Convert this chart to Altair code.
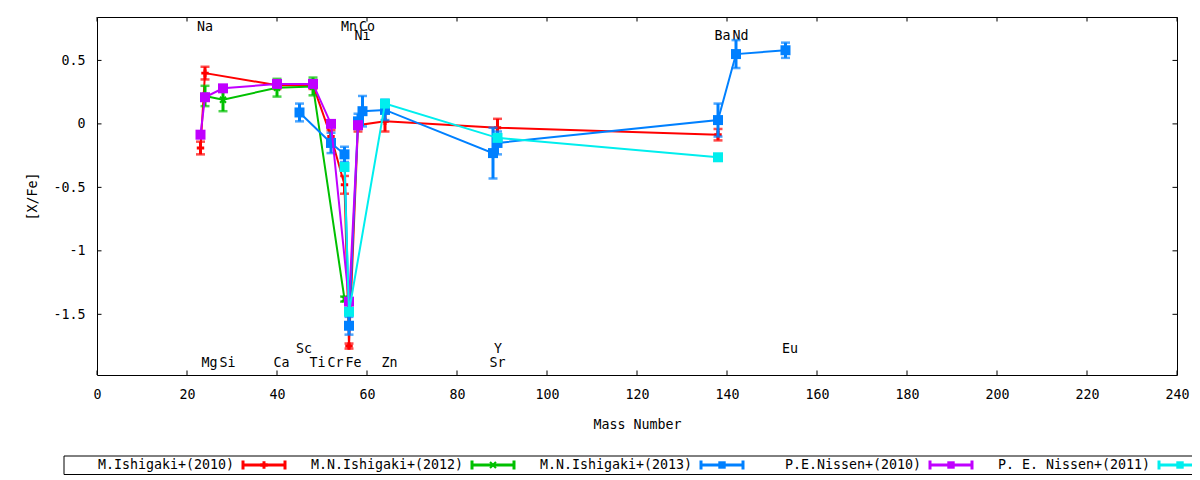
import altair as alt
import pandas as pd

# ---------------- data ----------------
ELEMENTS = ["Na", "Mg", "Si", "Ca", "Sc", "Ti", "Cr", "Mn", "Fe", "Ni", "Co", "Zn", "Sr", "Y", "Ba", "Nd", "Eu"]
MASSES = [23, 24, 28, 40, 45, 48, 52, 55, 56, 58, 59, 64, 88, 89, 138, 142, 153]
LABEL_Y = [0.765, -1.88, -1.88, -1.88, -1.77, -1.88, -1.88, 0.765, -1.88, 0.69, 0.765,
           -1.88, -1.88, -1.77, 0.69, 0.69, -1.77]

SERIES_NAMES = ["M.Ishigaki+(2010)", "M.N.Ishigaki+(2012)", "M.N.Ishigaki+(2013)",
                "P.E.Nissen+(2010)", "P. E. Nissen+(2011)"]
SERIES_COLORS = ["#ff0000", "#00c000", "#0080ff", "#c000ff", "#00eeee"]

RED_ELEM = ["Na", "Mg", "Ca", "Ti", "Cr", "Mn", "Fe", "Ni", "Zn", "Y", "Ba"]
RED_VAL = [-0.19, 0.40, 0.305, 0.305, -0.10, -0.48, -1.75, -0.01, 0.02, -0.03, -0.085]
RED_ERR = [0.05, 0.05, 0.03, 0.03, 0.05, 0.07, 0.02, 0.05, 0.08, 0.07, 0.045]

GREEN_ELEM = ["Mg", "Si", "Ca", "Ti", "Mn"]
GREEN_VAL = [0.22, 0.19, 0.285, 0.295, -1.38]
GREEN_ERR = [0.08, 0.09, 0.07, 0.07, 0.02]

BLUE_ELEM = ["Sc", "Cr", "Mn", "Fe", "Ni", "Co", "Zn", "Sr", "Y", "Ba", "Nd", "Eu"]
BLUE_VAL = [0.09, -0.15, -0.24, -1.59, 0.02, 0.10, 0.11, -0.23, -0.15, 0.03, 0.55, 0.58]
BLUE_ERR = [0.07, 0.08, 0.06, 0.07, 0.06, 0.12, 0.08, 0.20, 0.09, 0.13, 0.11, 0.06]

PURPLE_ELEM = ["Na", "Mg", "Si", "Ca", "Ti", "Cr", "Fe", "Ni"]
PURPLE_VAL = [-0.085, 0.21, 0.28, 0.315, 0.315, 0.0, -1.40, -0.01]

CYAN_ELEM = ["Mn", "Fe", "Zn", "Y", "Ba"]
CYAN_VAL = [-0.34, -1.48, 0.16, -0.11, -0.263]

X_TICKS = list(range(0, 241, 20))
Y_TICKS = [0.5, 0, -0.5, -1, -1.5]

# ---------------- style ----------------
FONT = "DejaVu Sans Mono"
FS = 13.3
W, H = 1080, 358
X_SHAPE = "M-1,-0.6L-0.6,-1L0,-0.4L0.6,-1L1,-0.6L0.4,0L1,0.6L0.6,1L0,0.4L-0.6,1L-1,0.6L-0.4,0Z"
SHAPES = ["cross", X_SHAPE, "square", "square", "square"]
SIZES = [55, 55, 100, 100, 100]

xs = alt.Scale(domain=[0, 240], nice=False, zero=False)
ys = alt.Scale(domain=[-1.978, 0.842], nice=False, zero=False)
xaxis = alt.Axis(values=X_TICKS, title="Mass Number", ticks=False, tickSize=0, domain=False,
                 grid=False, labelPadding=12, titleY=49, titleBaseline="middle",
                 labelFlush=False)
yaxis = alt.Axis(values=Y_TICKS, title="[X/Fe]", ticks=False, tickSize=0, domain=False,
                 grid=False, labelPadding=12, labelExpr="toString(datum.value)",
                 titleAngle=270, titleX=-65, titleY=H / 2, titleBaseline="middle",
                 titleAlign="center")


def XE(f="mass"):
    return alt.X(f"{f}:Q", scale=xs, axis=xaxis)


def YE(f="val"):
    return alt.Y(f"{f}:Q", scale=ys, axis=yaxis)


def series_df(elems, vals, errs=None):
    d = pd.DataFrame({"mass": [MASSES[ELEMENTS.index(e)] for e in elems],
                      "val": vals, "elem": elems})
    d["order"] = range(len(d))
    if errs is not None:
        d["lo"] = [v - e for v, e in zip(vals, errs)]
        d["hi"] = [v + e for v, e in zip(vals, errs)]
    return d


series = [
    (series_df(RED_ELEM, RED_VAL, RED_ERR), 0),
    (series_df(GREEN_ELEM, GREEN_VAL, GREEN_ERR), 1),
    (series_df(BLUE_ELEM, BLUE_VAL, BLUE_ERR), 2),
    (series_df(PURPLE_ELEM, PURPLE_VAL), 3),
    (series_df(CYAN_ELEM, CYAN_VAL), 4),
]

layers = []

# element labels
lab = pd.DataFrame({"mass": MASSES, "val": LABEL_Y, "elem": ELEMENTS})
layers.append(alt.Chart(lab).mark_text(align="left", baseline="middle", dx=-3.5,
                                        font=FONT, fontSize=FS, color="black")
              .encode(x=XE(), y=YE(), text="elem:N"))

for d, i in series:
    c = SERIES_COLORS[i]
    base = alt.Chart(d)
    layers.append(base.mark_line(color=c, strokeWidth=2)
                  .encode(x=XE(), y=YE(), order="order:Q"))
    if "lo" in d.columns:
        layers.append(base.mark_rule(color=c, strokeWidth=3)
                      .encode(x=XE(), y=YE("lo"), y2=alt.Y2("hi:Q")))
        layers.append(base.mark_tick(color=c, orient="horizontal", size=9, thickness=2.5)
                      .encode(x=XE(), y=YE("lo")))
        layers.append(base.mark_tick(color=c, orient="horizontal", size=9, thickness=2.5)
                      .encode(x=XE(), y=YE("hi")))
    layers.append(base.mark_point(color=c, filled=True, opacity=1, shape=SHAPES[i],
                                  size=SIZES[i], strokeWidth=0)
                  .encode(x=XE(), y=YE()))

# inward ticks (gnuplot style) on all four sides
xt = pd.DataFrame({"mass": X_TICKS})
yt = pd.DataFrame({"val": Y_TICKS})
layers.append(alt.Chart(xt).mark_rule(color="black", strokeWidth=1)
              .encode(x=XE(), y=alt.value(H), y2=alt.value(H - 4.5)))
layers.append(alt.Chart(xt).mark_rule(color="black", strokeWidth=1)
              .encode(x=XE(), y=alt.value(0), y2=alt.value(4.5)))
layers.append(alt.Chart(yt).mark_rule(color="black", strokeWidth=1)
              .encode(y=YE(), x=alt.value(0), x2=alt.value(4.5)))
layers.append(alt.Chart(yt).mark_rule(color="black", strokeWidth=1)
              .encode(y=YE(), x=alt.value(W), x2=alt.value(W - 4.5)))

# legend (below the plot, gnuplot style)
leg = pd.DataFrame({"name": SERIES_NAMES, "i": list(range(len(SERIES_NAMES)))})
legbase = alt.Chart(leg).transform_calculate(
    tx="137 + 229 * datum.i", sx1="146 + 229 * datum.i",
    sx2="188 + 229 * datum.i", cx="167 + 229 * datum.i")
colr = alt.Color("name:N", scale=alt.Scale(domain=SERIES_NAMES, range=SERIES_COLORS), legend=None)
LY = 448
layers.append(alt.Chart(pd.DataFrame({"a": [0]})).mark_rect(filled=False, stroke="black", strokeWidth=1)
              .encode(x=alt.value(-33), x2=alt.value(1110), y=alt.value(439), y2=alt.value(457.5)))
layers.append(legbase.mark_text(align="right", baseline="middle", font=FONT, fontSize=FS, color="black")
              .encode(x=alt.X("tx:Q", scale=None, axis=None), y=alt.value(LY), text="name:N"))
layers.append(legbase.mark_rule(strokeWidth=3)
              .encode(x=alt.X("sx1:Q", scale=None, axis=None), x2="sx2:Q", y=alt.value(LY), color=colr))
layers.append(legbase.mark_rule(strokeWidth=3)
              .encode(x=alt.X("sx1:Q", scale=None, axis=None), y=alt.value(LY - 4.5),
                      y2=alt.value(LY + 4.5), color=colr))
layers.append(legbase.mark_rule(strokeWidth=3)
              .encode(x=alt.X("sx2:Q", scale=None, axis=None), y=alt.value(LY - 4.5),
                      y2=alt.value(LY + 4.5), color=colr))
layers.append(legbase.mark_point(filled=True, opacity=1, strokeWidth=0)
              .encode(x=alt.X("cx:Q", scale=None, axis=None), y=alt.value(LY), color=colr,
                      shape=alt.Shape("name:N", scale=alt.Scale(domain=SERIES_NAMES, range=SHAPES), legend=None),
                      size=alt.Size("name:N", scale=alt.Scale(domain=SERIES_NAMES, range=SIZES), legend=None)))

chart = alt.layer(*layers).properties(
    width=W, height=H,
    autosize=alt.AutoSizeParams(type="none"),
    padding={"left": 89, "top": 9, "right": 15, "bottom": 100},
    background="white",
).configure_view(stroke="black", strokeWidth=1).configure_axis(
    labelFont=FONT, labelFontSize=FS, labelColor="black",
    titleFont=FONT, titleFontSize=FS, titleColor="black", titleFontWeight="normal",
)

chart.save("out.html", embed_options={"renderer": "svg", "actions": False})
